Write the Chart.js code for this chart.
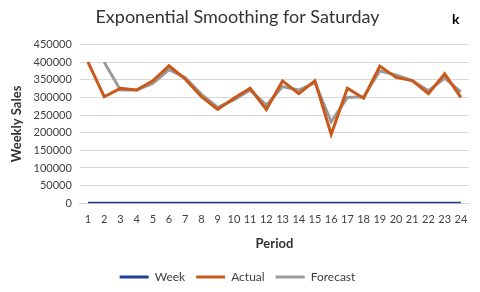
<!DOCTYPE html>
<html>
<head>
<meta charset="utf-8">
<script src="https://cdn.jsdelivr.net/npm/chart.js@4/dist/chart.umd.min.js"></script>
<style>
  html, body { margin: 0; padding: 0; background: #fff; }
  #wrap { width: 480px; height: 292px; }
</style>
</head>
<body>
<div id="wrap"><canvas id="chart" width="480" height="292"></canvas></div>
<script>
var periods = ['1', '2', '3', '4', '5', '6', '7', '8', '9', '10', '11', '12',
  '13', '14', '15', '16', '17', '18', '19', '20', '21', '22', '23', '24']

var week = [1, 2, 3, 4, 5, 6, 7, 8, 9, 10, 11, 12,
  13, 14, 15, 16, 17, 18, 19, 20, 21, 22, 23, 24]

var actual = [400000, 302000, 326000, 321000, 347000, 390000, 352000, 302000,
  266000, 298000, 326000, 266000, 347000, 311000, 347000, 195000,
  326000, 298000, 389000, 357000, 348000, 311000, 367000, 300000]

var forecast = [null, 400000, 321000, 321000, 340000, 379000, 356000, 309000,
  272000, 293000, 321000, 278000, 331000, 321000, 342000, 231000,
  300000, 302000, 375000, 364000, 348000, 319000, 355000, 316000]

var FONT = 'Lato'

// corner mark next to the title
var cornerMark = {
  id: 'cornerMark',
  afterDraw: function (chart) {
    var ctx = chart.ctx
    ctx.save()
    ctx.font = 'bold 14px ' + FONT
    ctx.fillStyle = '#000'
    ctx.textBaseline = 'middle'
    ctx.fillText('k', 452, 19)
    ctx.restore()
  }
}

function line (label, data, color) {
  return {
    label: label,
    data: data,
    borderColor: color,
    backgroundColor: color,
    borderWidth: 3,
    pointRadius: 0,
    tension: 0,
    spanGaps: false
  }
}

new Chart(document.getElementById('chart'), {
  type: 'line',
  data: {
    labels: periods,
    datasets: [
      line('Week', week, '#1f3f97'),
      line('Actual', actual, '#c9581a'),
      line('Forecast', forecast, '#9a9a9a')
    ]
  },
  options: {
    responsive: false,
    animation: false,
    layout: { padding: { left: 6, right: 11, top: 4, bottom: -1 } },
    plugins: {
      title: {
        display: true,
        text: 'Exponential Smoothing for Saturday',
        color: '#333',
        font: { family: FONT, size: 18, weight: 'normal' },
        padding: { top: 2, bottom: 17 }
      },
      legend: {
        position: 'bottom',
        labels: {
          usePointStyle: true,
          pointStyle: 'line',
          pointStyleWidth: 29,
          boxHeight: 11,
          color: '#404040',
          font: { family: FONT, size: 12 },
          padding: 11
        }
      },
      tooltip: { enabled: false }
    },
    scales: {
      x: {
        offset: true,
        grid: { display: false, drawTicks: false },
        border: { color: '#d9d9d9' },
        ticks: { color: '#404040', font: { family: FONT, size: 11 }, padding: 10, maxRotation: 0, autoSkip: false },
        title: {
          display: true,
          text: 'Period',
          color: '#333',
          font: { family: FONT, size: 13, weight: 'bold' },
          padding: { top: 0, bottom: 8 }
        }
      },
      y: {
        min: 0,
        max: 450000,
        grid: { color: '#d9d9d9', drawTicks: false },
        border: { display: false },
        ticks: {
          stepSize: 50000,
          color: '#404040',
          font: { family: FONT, size: 11 },
          padding: 8,
          callback: function (v) { return String(v) }
        },
        title: {
          display: true,
          text: 'Weekly Sales',
          color: '#333',
          font: { family: FONT, size: 13, weight: 'bold' },
          padding: { top: 3, bottom: 1 }
        }
      }
    }
  },
  plugins: [cornerMark]
})
</script>
</body>
</html>
